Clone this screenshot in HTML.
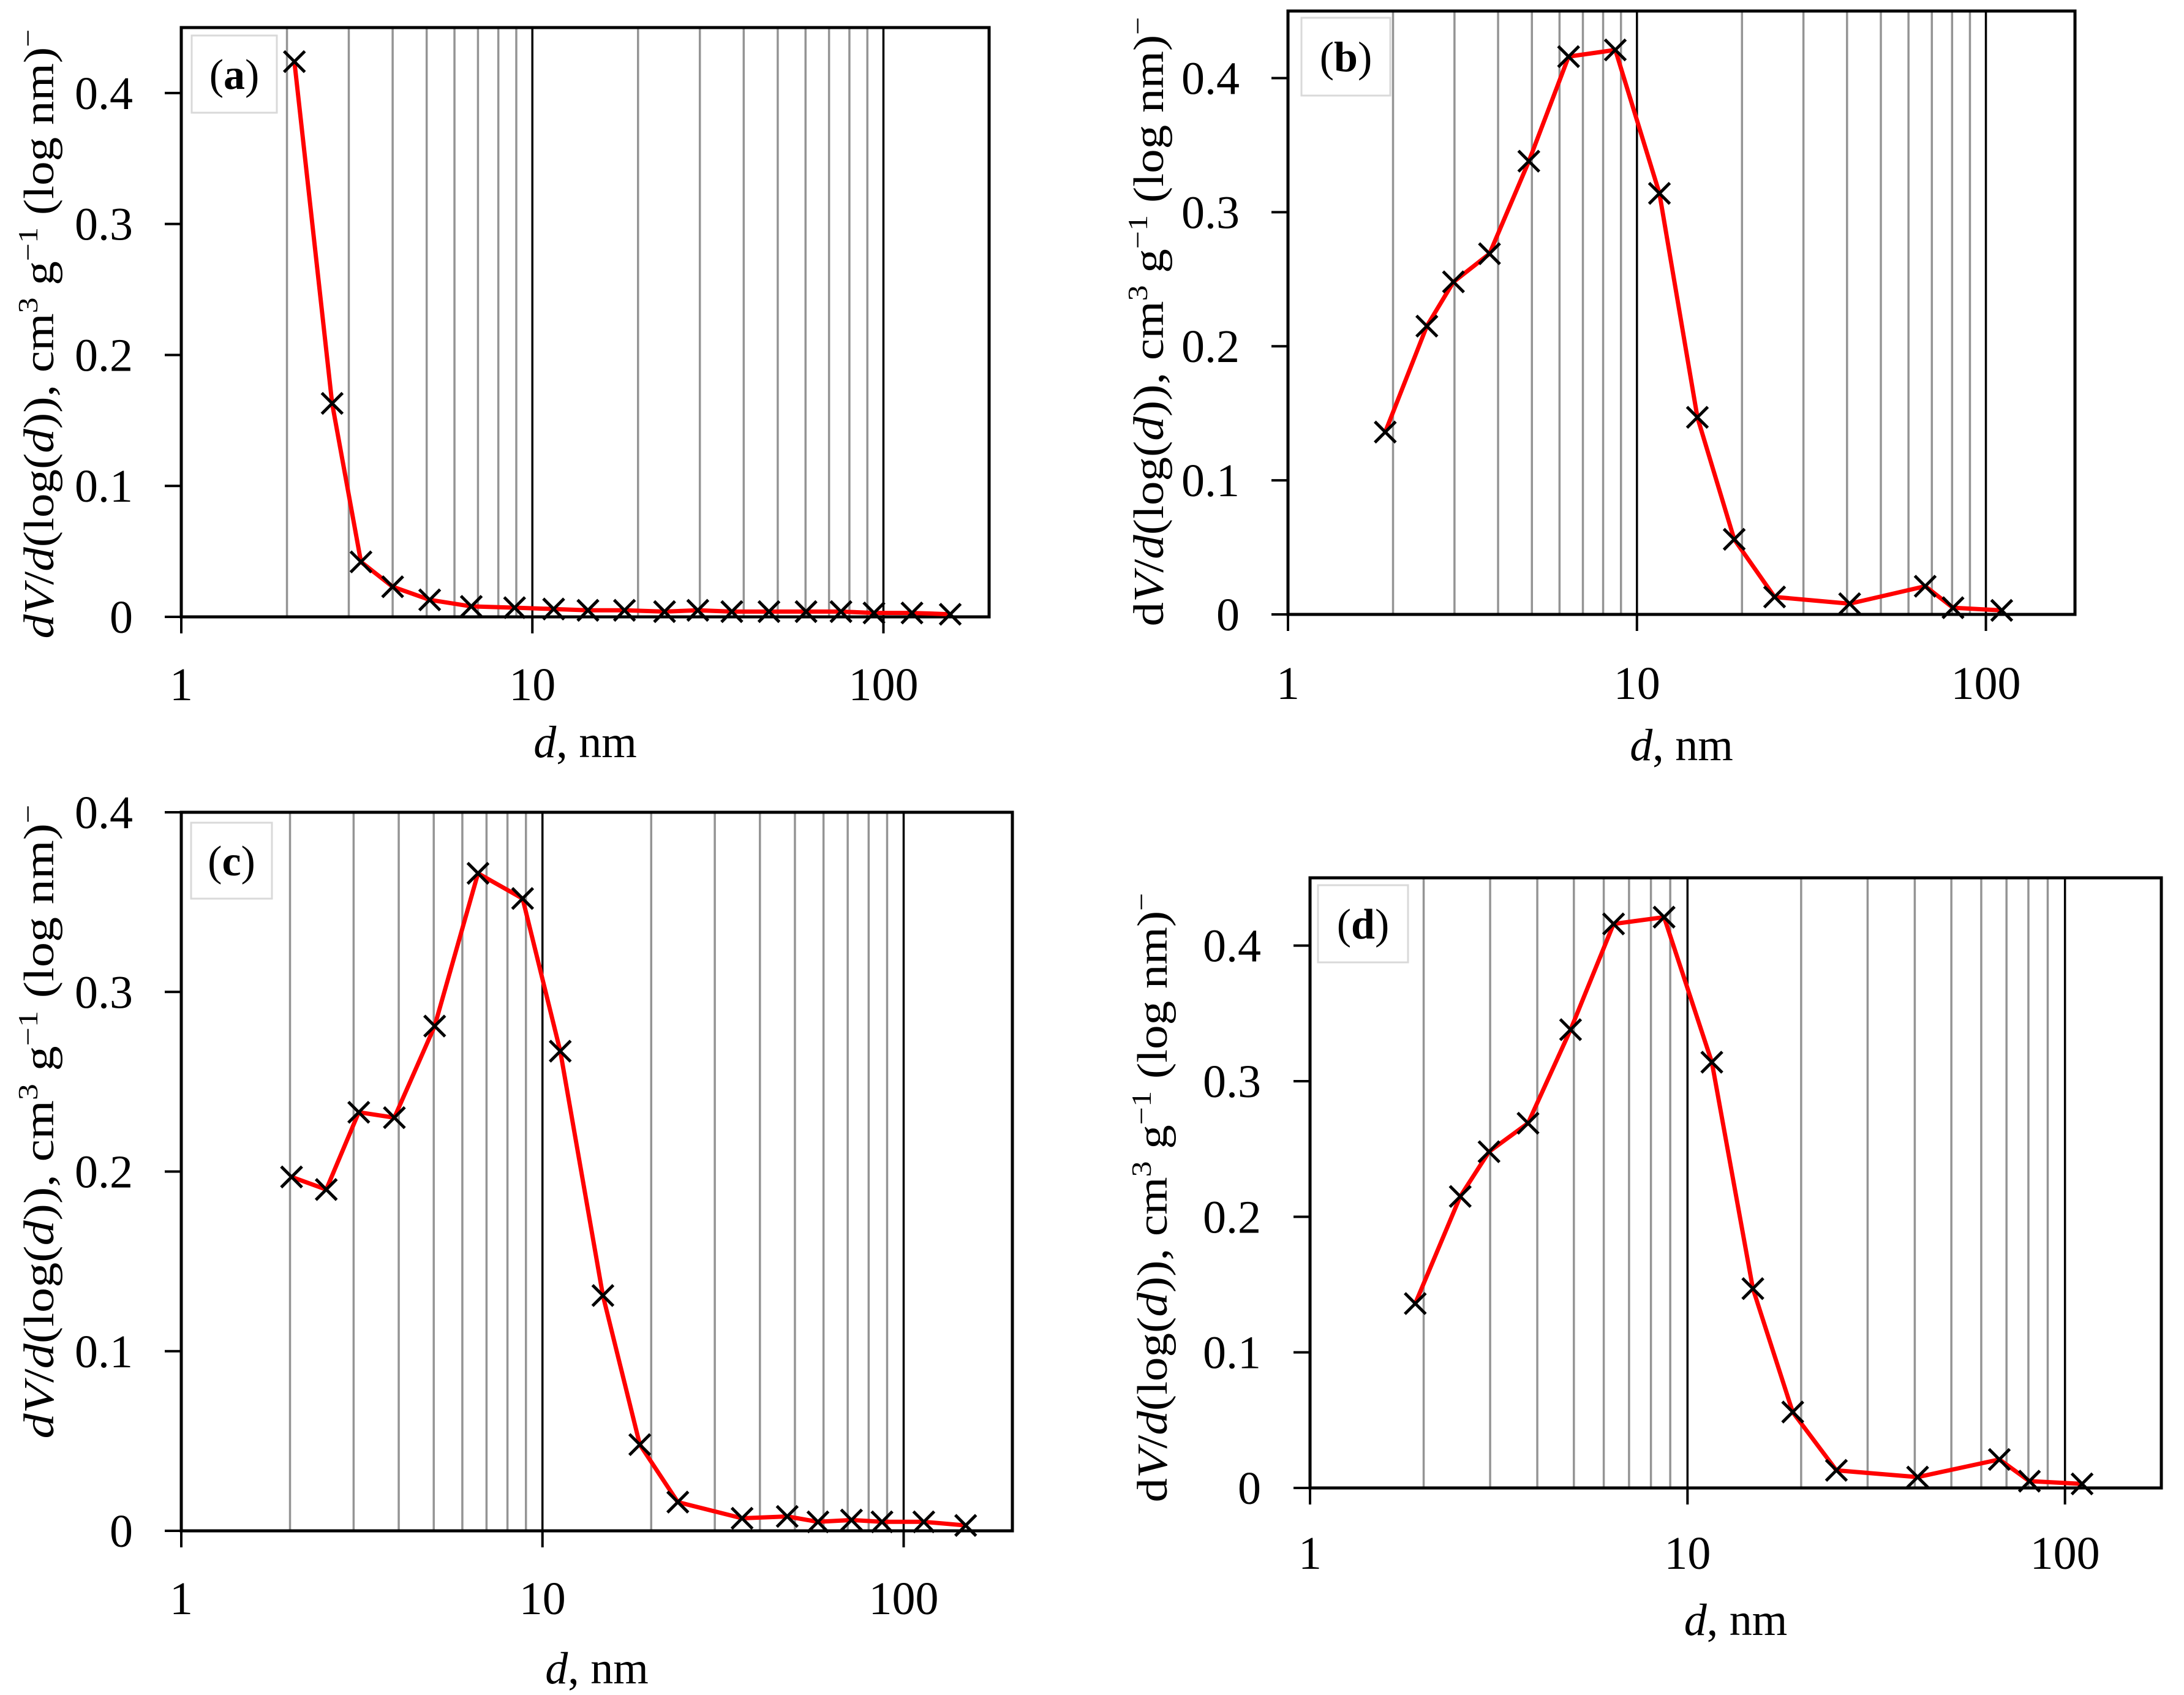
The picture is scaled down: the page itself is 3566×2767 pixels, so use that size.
<!DOCTYPE html>
<html><head><meta charset="utf-8"><style>
html,body{margin:0;padding:0;background:#fff;}
svg{display:block;font-family:"Liberation Serif",serif;}
</style></head><body>
<svg id="fig" width="3566" height="2767" viewBox="0 0 3566 2767" xmlns="http://www.w3.org/2000/svg">
<rect width="3566" height="2767" fill="#fff"/>
</svg>
<script>
// Panel (a)
const aD = [2.1,2.69,3.25,4.0,5.1,6.7,8.9,11.5,14.4,18.3,23.8,29.6,37,47.2,60.2,75.7,94,120.6,155];
const aV = [0.424,0.163,0.042,0.023,0.013,0.008,0.007,0.006,0.005,0.005,0.004,0.005,0.004,0.004,0.004,0.004,0.003,0.003,0.002];
// Panel (b)
const bD = [1.9,2.5,2.98,3.78,4.9,6.37,8.67,11.6,14.9,19,24.8,40.7,67,80.5,111];
const bV = [0.136,0.215,0.248,0.269,0.338,0.416,0.421,0.314,0.147,0.056,0.013,0.008,0.021,0.005,0.003];
// Panel (c)
const cD = [2.02,2.52,3.1,3.89,5.03,6.63,8.81,11.2,14.7,18.6,23.7,35.7,47.6,57.9,71.7,87.1,113.7,148.5];
const cV = [0.197,0.190,0.233,0.230,0.281,0.366,0.352,0.267,0.131,0.048,0.016,0.007,0.008,0.005,0.006,0.005,0.005,0.003];
// Panel (d)
const dD = [1.9,2.5,2.98,3.78,4.9,6.37,8.67,11.6,14.9,19,24.8,40.7,67,80.5,111];
const dV = [0.136,0.215,0.248,0.269,0.338,0.416,0.421,0.314,0.147,0.056,0.013,0.008,0.021,0.005,0.003];
const yTicksA = [0,0.1,0.2,0.3,0.4];
const xTickVals = [1,10,100];
const xTickLabels = ["1","10","100"];

const NS="http://www.w3.org/2000/svg";
const svg=document.getElementById('fig');
function mk(tag,attrs,parent){const e=document.createElementNS(NS,tag);for(const k in attrs)e.setAttribute(k,attrs[k]);(parent||svg).appendChild(e);return e;}

const panels=[
 {id:'a',D:aD,V:aV,L:296,R:1615,T:45,B:1007,xmax:200,ymax:0.45,tlx:87,tcy:545,tlen:995,firstItalic:true,box:[313,58,139,126],xlY:1117,xtY:1212,ylR:217},
 {id:'b',D:bD,V:bV,L:2103,R:3388,T:18,B:1003,xmax:180,ymax:0.45,tlx:1899,tcy:525,tlen:995,firstItalic:false,box:[2125,29,145,127],xlY:1115,xtY:1217,ylR:2024},
 {id:'c',D:cD,V:cV,L:296,R:1653,T:1326,B:2499,xmax:200,ymax:0.4,tlx:87,tcy:1831,tlen:1035,firstItalic:true,box:[312,1343,132,124],xlY:2609,xtY:2724,ylR:217},
 {id:'d',D:dD,V:dV,L:2139,R:3529,T:1433,B:2429,xmax:180,ymax:0.45,tlx:1905,tcy:1955,tlen:995,firstItalic:false,box:[2152,1445,147,126],xlY:2535,xtY:2645,ylR:2059}
];

panels.forEach(p=>{
  const g=mk('g',{});
  
  
  const lx=Math.log10(p.xmax);
  const X=d=>p.L+(Math.log10(d)/lx)*(p.R-p.L);
  const Y=v=>p.B-(v/p.ymax)*(p.B-p.T);
  const grid=[];
  for(const dec of [1,10,100]) for(let k=2;k<=9;k++){const v=k*dec;if(v<p.xmax)grid.push(v);}
  grid.forEach(v=>{const l=mk('line',{x1:X(v),x2:X(v),y1:p.T,y2:p.B,stroke:'#949494','stroke-width':3.5},g);
    
    });
  [10,100].forEach(v=>{const l=mk('line',{x1:X(v),x2:X(v),y1:p.T,y2:p.B,stroke:'#000','stroke-width':3.5},g);
    
    });
  const lb=mk('rect',{x:p.box[0],y:p.box[1],width:p.box[2],height:p.box[3],fill:'#fff',stroke:'#d9d9d9','stroke-width':3},g);
  
  
  const lt=mk('text',{x:p.box[0]+p.box[2]/2,y:p.box[1]+p.box[3]/2+24,'text-anchor':'middle','font-size':70},g);
  
  
  lt.innerHTML='(<tspan font-weight="bold">'+p.id+'</tspan>)';
  const fr=mk('rect',{x:p.L,y:p.T,width:p.R-p.L,height:p.B-p.T,fill:'none',stroke:'#000','stroke-width':5},g);
  
  
  yTicksA.forEach(v=>{
    if(v>p.ymax+1e-9)return;
    const y=Y(v);
    const t=mk('line',{x1:p.L-27,x2:p.L,y1:y,y2:y,stroke:'#000','stroke-width':4},g);
    
    
    const tx=mk('text',{x:p.ylR,y:y+26,'text-anchor':'end','font-size':76},g);
    
    
    tx.textContent=String(v);
  });
  xTickVals.forEach((v,i)=>{
    const x=X(v);
    const t=mk('line',{x1:x,x2:x,y1:p.B,y2:p.B+27,stroke:'#000','stroke-width':4},g);
    
    
    const tx=mk('text',{x:x,y:p.xlY+26,'text-anchor':'middle','font-size':76},g);
    
    
    tx.textContent=xTickLabels[i];
  });
  const xt=mk('text',{x:(p.L+p.R)/2,y:p.xtY+24,'text-anchor':'middle','font-size':74},g);
  
  
  xt.innerHTML='<tspan font-style="italic">d</tspan>, nm';
  const yt=mk('text',{x:0,y:0,'text-anchor':'middle','font-size':70,textLength:p.tlen,lengthAdjust:'spacingAndGlyphs',transform:'translate('+p.tlx+','+p.tcy+') rotate(-90)'},g);
  
  
  const d1=p.firstItalic?'<tspan font-style="italic">d</tspan>':'d';
  yt.innerHTML=d1+'<tspan font-style="italic">V</tspan>/<tspan font-style="italic">d</tspan>(log(<tspan font-style="italic">d</tspan>)), cm<tspan font-size="46" dy="-26">3</tspan><tspan dy="26"> g</tspan><tspan font-size="46" dy="-26">−1</tspan><tspan dy="26"> (log nm)</tspan><tspan font-size="46" dy="-26">−</tspan>';
  let dstr='';
  p.D.forEach((d,i)=>{dstr+=(i?'L':'M')+X(d).toFixed(1)+','+Y(p.V[i]).toFixed(1);});
  const pl=mk('path',{d:dstr,fill:'none',stroke:'#ff0000','stroke-width':7,'stroke-linejoin':'round'},g);
  
  
  p.D.forEach((d,i)=>{
    const x=X(d),y=Y(p.V[i]),s=17;
    const m=mk('path',{d:`M${x-s},${y-s}L${x+s},${y+s}M${x-s},${y+s}L${x+s},${y-s}`,stroke:'#000','stroke-width':5,fill:'none'},g);
    
    
  });
});
</script>
</body></html>
